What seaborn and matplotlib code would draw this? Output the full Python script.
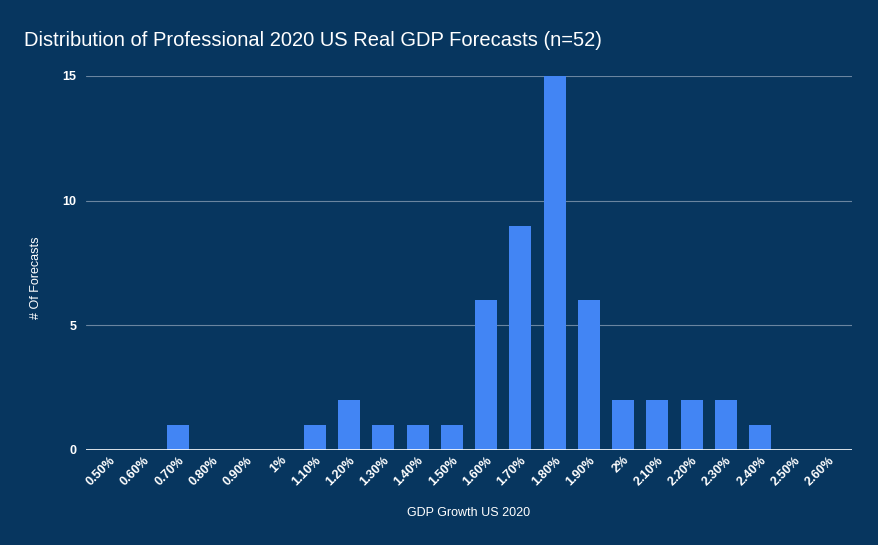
import matplotlib
matplotlib.use("Agg")
import matplotlib.pyplot as plt
import seaborn as sns
import pandas as pd

categories = ["0.50%", "0.60%", "0.70%", "0.80%", "0.90%", "1%", "1.10%", "1.20%", "1.30%",
              "1.40%", "1.50%", "1.60%", "1.70%", "1.80%", "1.90%", "2%", "2.10%", "2.20%",
              "2.30%", "2.40%", "2.50%", "2.60%"]
counts = [0, 0, 1, 0, 0, 0, 1, 2, 1, 1, 1, 6, 9, 15, 6, 2, 2, 2, 2, 1, 0, 0]
y_ticks = [0, 5, 10, 15]

BG = "#07365F"
BAR = "#4285F4"

sns.set_theme(style="white")
plt.rcParams['font.family'] = ['Liberation Sans', 'DejaVu Sans']

df = pd.DataFrame({"cat": categories, "count": counts})

fig = plt.figure(figsize=(8.79, 5.45), dpi=100)
fig.patch.set_facecolor(BG)
ax = fig.add_axes([86/879, 95/545, (852-86)/879, (450-76)/545])
ax.set_facecolor(BG)

sns.barplot(data=df, x="cat", y="count", color=BAR, saturation=1, width=0.64, ax=ax,
            zorder=3, linewidth=0, edgecolor="none")

ax.set_xlim(-0.686, len(categories) - 1 + 0.686)
ax.set_ylim(0, 15)
ax.set_yticks(y_ticks)
ax.set_yticklabels([str(v) for v in y_ticks], fontsize=9, fontweight="bold", color="white")
ax.tick_params(axis="y", length=0, pad=7)
ax.tick_params(axis="x", length=0, pad=3)
ax.set_xticks(range(len(categories)))
ax.set_xticklabels(categories, rotation=45, ha="right", rotation_mode="anchor",
                   fontsize=9, fontweight="bold", color="white")

for v in y_ticks[1:]:
    ax.axhline(v, color="#6A85A0", lw=0.8, zorder=1)
ax.axhline(0, color="white", lw=1.2, zorder=4)

for s in ax.spines.values():
    s.set_visible(False)

ax.set_xlabel("GDP Growth US 2020", fontsize=9, color="white", labelpad=14)
ax.set_ylabel("# Of Forecasts", fontsize=9, color="white")
ax.yaxis.set_label_coords(-0.058, 0.46)

fig.text(24/879, 1 - 40/545, "Distribution of Professional 2020 US Real GDP Forecasts (n=52)",
         fontsize=14.5, color="white", va="center", ha="left")

fig.savefig("out.png", dpi=100, facecolor=BG)
